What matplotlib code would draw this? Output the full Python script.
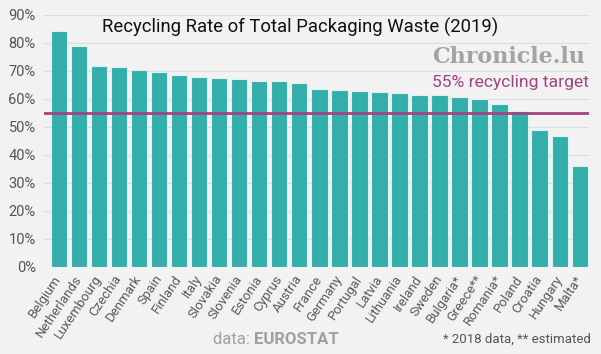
import numpy as np
import matplotlib.pyplot as plt

# recycling rate of packaging waste, 2019 (%)
countries = ["Belgium", "Netherlands", "Luxembourg", "Czechia", "Denmark", "Spain",
             "Finland", "Italy", "Slovakia", "Slovenia", "Estonia", "Cyprus", "Austria",
             "France", "Germany", "Portugal", "Latvia", "Lithuania", "Ireland", "Sweden",
             "Bulgaria*", "Greece**", "Romania*", "Poland", "Croatia", "Hungary", "Malta*"]
rates = [84.3, 78.8, 71.6, 71.2, 70.1, 69.6, 68.6, 67.6, 67.5, 67.2, 66.3, 66.2, 65.5,
         63.4, 63.2, 62.9, 62.5, 61.9, 61.4, 61.2, 60.5, 60.0, 58.0, 55.5, 48.9, 46.8, 35.9]
target = 55
yticks = [0, 10, 20, 30, 40, 50, 60, 70, 80, 90]

bg = "#f2f2f2"
teal = "#33aeab"
magenta = "#a3437f"

plt.rcParams['font.family'] = ['Roboto', 'DejaVu Sans']

fig = plt.figure(figsize=(6.01, 3.54), dpi=100, facecolor=bg)
ax = fig.add_axes([44/601, 1 - 266.7/354, 545/601, 252/354])
ax.set_facecolor(bg)

x = np.arange(len(countries))
ax.bar(x, rates, width=0.82, color=teal, edgecolor="#d8f3f2", linewidth=0.8, zorder=2)
ax.axhline(target, color=magenta, lw=2, zorder=3)

ax.set_ylim(0, 90)
ax.set_xlim(-0.74, len(countries) - 1 + 0.46)
ax.set_yticks(yticks)
ax.set_yticklabels([f"{v}%" for v in yticks])
ax.grid(axis="y", color="#dcdcdc", lw=0.8, zorder=0)
ax.tick_params(axis="y", length=0, labelsize=10.5, labelcolor="#555555", pad=6)
ax.tick_params(axis="x", length=0, labelsize=9.5, labelcolor="#5a5a5a", pad=7)
ax.set_xticks(x)
ax.set_xticklabels(countries, rotation=56, ha="right", va="center", rotation_mode="anchor")
for s in ax.spines.values():
    s.set_visible(False)

fig.text(300/601, 1 - 27/354, "Recycling Rate of Total Packaging Waste (2019)",
         ha="center", va="center", fontsize=13.3, color="#111111")
fig.text(585/601, 1 - 57/354, "Chronicle.lu", ha="right", va="center",
         fontsize=16, fontweight="bold", family="DejaVu Serif", color="#a3a3a3")
fig.text(589/601, 1 - 83/354, "55% recycling target", ha="right", va="center",
         fontsize=12.6, color=magenta)

fig.text(254/601, 1 - 340/354, "data: ", ha="right", va="center",
         fontsize=12, color="#a0a0a0")
fig.text(254/601, 1 - 340/354, "EUROSTAT", ha="left", va="center",
         fontsize=12, fontweight="bold", color="#a0a0a0")
fig.text(591/601, 1 - 339/354, "* 2018 data, ** estimated", ha="right", va="center",
         fontsize=9.5, color="#555555")

fig.savefig("out.png", dpi=100, facecolor=bg)
